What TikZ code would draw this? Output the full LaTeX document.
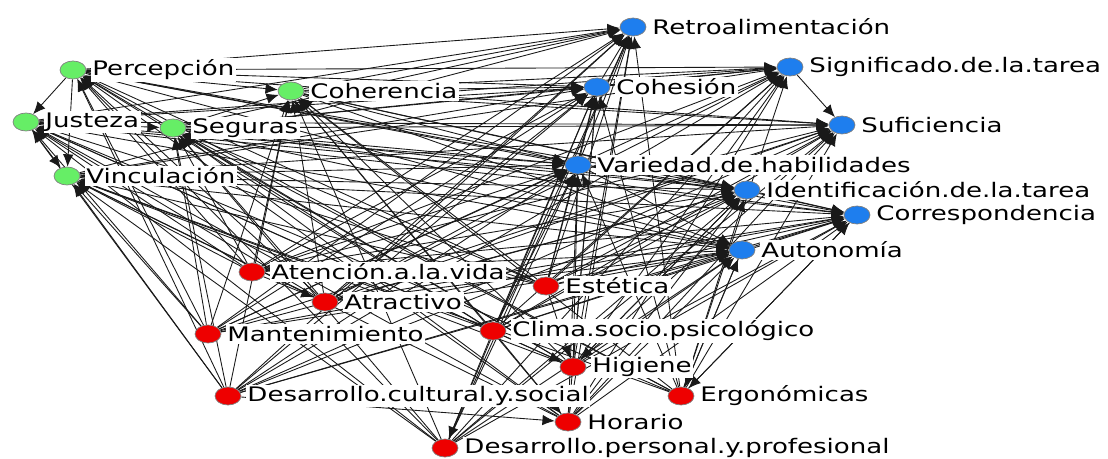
\documentclass[tikz,border=0pt]{standalone}
\usepackage{fontspec}
\newfontfamily\lblfont[FakeStretch=1.3]{DejaVu Sans}
\usepackage{tikz}
\usetikzlibrary{arrows.meta,shapes.geometric,backgrounds}
\definecolor{nverde}{HTML}{66EE66}
\definecolor{nazul}{HTML}{1E7EEE}
\definecolor{nrojo}{HTML}{EE0000}

\begin{document}
\begin{tikzpicture}[x=0.02cm, y=-0.02cm,
      nodo/.style={ellipse, draw=black!50, thin, inner sep=0pt,
        minimum width=0.52cm, minimum height=0.36cm},
      verde/.style={nodo, fill=nverde},
      azul/.style={nodo, fill=nazul},
      rojo/.style={nodo, fill=nrojo},
      every label/.style={fill=white, inner sep=1pt,
        font=\lblfont\fontsize{11.4}{13}\selectfont},
      label distance=0.08cm,
      arr/.style={-{Latex[length=7pt,width=6pt]}, line width=0.5pt, color=black!90}
    ]
      \useasboundingbox (0,0) rectangle (1108,459);
      % grupo verde
      \node[verde, label=right:Percepción]   (per) at (73,70)   {};
      \node[verde, label=right:Justeza]      (jus) at (26,122)  {};
      \node[verde, label=right:Vinculación]  (vin) at (67,176)  {};
      \node[verde, label=right:Seguras]      (seg) at (173,128) {};
      \node[verde, label=right:Coherencia]   (coh) at (291,91)  {};
      % grupo azul
      \node[azul, label=right:Retroalimentación]          (ret) at (633,27)  {};
      \node[azul, label=right:Significado.de.la.tarea]    (sig) at (790,67)  {};
      \node[azul, label=right:Cohesión]                   (chs) at (597,87)  {};
      \node[azul, label=right:Suficiencia]                (suf) at (842,125) {};
      \node[azul, label=right:Variedad.de.habilidades]    (var) at (578,165) {};
      \node[azul, label=right:Identificación.de.la.tarea] (ide) at (747,190) {};
      \node[azul, label=right:Correspondencia]            (cor) at (857,215) {};
      \node[azul, label=right:Autonomía]                  (aut) at (742,250) {};
      % grupo rojo
      \node[rojo, label=right:Atención.a.la.vida]                (ate) at (252,272) {};
      \node[rojo, label=right:Atractivo]                         (atr) at (325,302) {};
      \node[rojo, label=right:Estética]                          (est) at (546,286) {};
      \node[rojo, label=right:Mantenimiento]                     (man) at (208,334) {};
      \node[rojo, label=right:Clima.socio.psicológico]           (cli) at (493,331) {};
      \node[rojo, label=right:Higiene]                           (hig) at (573,367) {};
      \node[rojo, label=right:Desarrollo.cultural.y.social]      (dcs) at (228,396) {};
      \node[rojo, label=right:Ergonómicas]                       (erg) at (681,396) {};
      \node[rojo, label=right:Horario]                           (hor) at (568,422) {};
      \node[rojo, label=right:Desarrollo.personal.y.profesional] (dpp) at (445,448) {};
      \begin{pgfonlayer}{background}
        \foreach \s in {ate,atr,est,man,cli,hig,dcs,erg,hor,dpp}
          \foreach \t in {per,jus,vin,seg,coh,ret,sig,chs,suf,var,ide,cor,aut}
            \draw[arr] (\s) -- (\t);
        \foreach \s in {per,jus,vin,seg,coh}
          \foreach \t in {ret,sig,chs,suf,var,ide,cor,aut}
            \draw[arr] (\s) -- (\t);
        \foreach \s/\t in {per/jus, per/vin, jus/vin, jus/seg, per/coh, seg/coh,
            chs/ret, var/ret, var/chs, chs/sig, sig/suf, var/ide, ide/cor,
            aut/cor, var/aut, ate/atr, cli/hig, est/hig, ide/hig, dcs/hor,
            cli/hor, cli/dpp, aut/erg, cor/erg}
          \draw[arr] (\s) -- (\t);
      \end{pgfonlayer}
    \end{tikzpicture}
\end{document}
